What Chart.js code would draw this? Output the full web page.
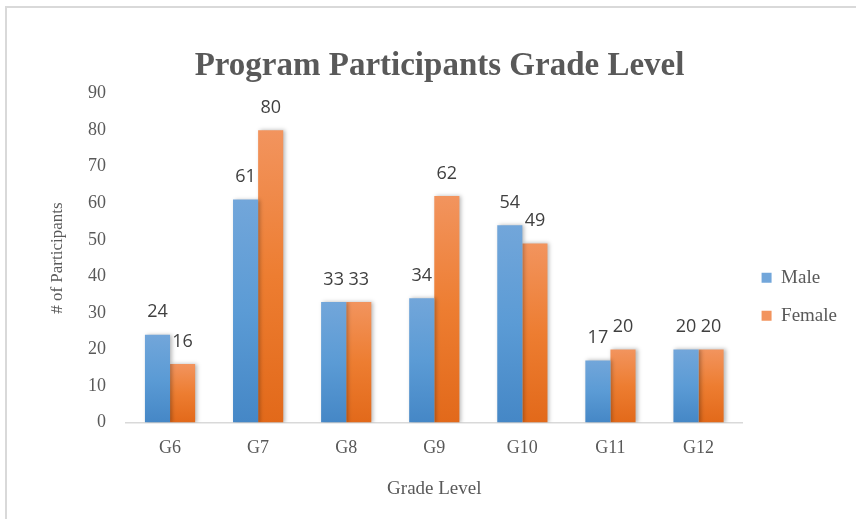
<!DOCTYPE html>
<html>
<head>
<meta charset="utf-8">
<script src="https://cdn.jsdelivr.net/npm/chart.js@4"></script>
<style>
  html, body { margin: 0; padding: 0; background: #ffffff; }
  #wrap { position: relative; width: 856px; height: 519px; overflow: hidden; }
  #frame { position: absolute; left: 5px; top: 6px; width: 900px; height: 600px; border: 2px solid #d9d9d9; box-sizing: border-box; }
  #c { position: absolute; left: 0; top: 0; }
</style>
</head>
<body>
<div id="wrap">
  <div id="frame"></div>
  <canvas id="c" width="856" height="519"></canvas>
</div>
<script>
const categories = ['G6', 'G7', 'G8', 'G9', 'G10', 'G11', 'G12'];
const maleValues = [24, 61, 33, 34, 54, 17, 20];
const femaleValues = [16, 80, 33, 62, 49, 20, 20];
const yTicks = [0, 10, 20, 30, 40, 50, 60, 70, 80, 90];

const serif = '"Liberation Serif", "Times New Roman", serif';
const sans = '"Open Sans", "Liberation Sans", sans-serif';
const textGray = '#595959';

function gradientFill(topColor, bottomColor, solid) {
  return (ctx) => {
    const chart = ctx.chart;
    if (ctx.type !== 'data' || !chart.chartArea) return solid;
    const y = chart.scales.y;
    const top = y.getPixelForValue(ctx.raw);
    const bottom = y.getPixelForValue(0);
    if (!isFinite(top) || !isFinite(bottom) || top === bottom) return solid;
    const g = chart.ctx.createLinearGradient(0, top, 0, bottom);
    g.addColorStop(0, topColor);
    g.addColorStop(0.5, solid);
    g.addColorStop(1, bottomColor);
    return g;
  };
}

const shadowPlugin = {
  id: 'barShadow',
  beforeDatasetsDraw(chart) {
    const c = chart.ctx;
    c.save();
    c.shadowColor = 'rgba(0,0,0,0.28)';
    c.shadowBlur = 4;
    c.shadowOffsetX = 2;
    c.shadowOffsetY = 0;
  },
  afterDatasetsDraw(chart) {
    chart.ctx.restore();
  }
};

const valueLabels = {
  id: 'valueLabels',
  afterDraw(chart) {
    const c = chart.ctx;
    c.save();
    c.font = '18px ' + sans;
    c.fillStyle = '#404040';
    c.textAlign = 'center';
    c.textBaseline = 'middle';
    chart.data.datasets.forEach((ds, di) => {
      const meta = chart.getDatasetMeta(di);
      meta.data.forEach((el, i) => {
        c.fillText(String(ds.data[i]), el.x, el.y - 22.5);
      });
    });
    c.restore();
  }
};

new Chart(document.getElementById('c'), {
  type: 'bar',
  data: {
    labels: categories,
    datasets: [
      {
        label: 'Male',
        data: maleValues,
        backgroundColor: gradientFill('#72a6da', '#4587c6', '#5b9bd5'),
        borderWidth: 0
      },
      {
        label: 'Female',
        data: femaleValues,
        backgroundColor: gradientFill('#f2945e', '#e2691a', '#ed7d31'),
        borderWidth: 0
      }
    ]
  },
  options: {
    responsive: false,
    animation: false,
    devicePixelRatio: 1,
    layout: { padding: { left: 32, right: 9, top: 0, bottom: 19 } },
    datasets: {
      bar: { categoryPercentage: 0.57, barPercentage: 1.0 }
    },
    plugins: {
      tooltip: { enabled: false },
      title: {
        display: true,
        text: 'Program Participants Grade Level',
        color: textGray,
        font: { family: serif, size: 33, weight: 'bold' },
        padding: { top: 47, bottom: 7 }
      },
      legend: {
        display: true,
        position: 'right',
        align: 'center',
        title: { display: true, text: ' ', font: { size: 12 }, padding: { top: 79, bottom: 0 } },
        labels: {
          color: textGray,
          font: { family: serif, size: 19 },
          boxWidth: 10,
          boxHeight: 10,
          padding: 19
        }
      }
    },
    scales: {
      x: {
        grid: { display: false, drawTicks: false },
        border: { display: true, color: '#d9d9d9', width: 1.5 },
        ticks: { color: textGray, font: { family: serif, size: 18 }, padding: 15 },
        title: {
          display: true,
          text: 'Grade Level',
          color: textGray,
          font: { family: serif, size: 19 },
          padding: { top: 3, bottom: 0 }
        }
      },
      y: {
        min: 0,
        max: 90,
        afterFit(scale) { scale.width = 94; },
        afterBuildTicks(scale) { scale.ticks = yTicks.map(v => ({ value: v })); },
        grid: { display: false, drawTicks: false },
        border: { display: false },
        ticks: { color: textGray, font: { family: serif, size: 18 }, padding: 20 },
        title: {
          display: true,
          text: '# of Participants',
          color: textGray,
          font: { family: serif, size: 17 },
          padding: { top: 15, bottom: 0 }
        }
      }
    }
  },
  plugins: [shadowPlugin, valueLabels]
});
</script>
</body>
</html>
